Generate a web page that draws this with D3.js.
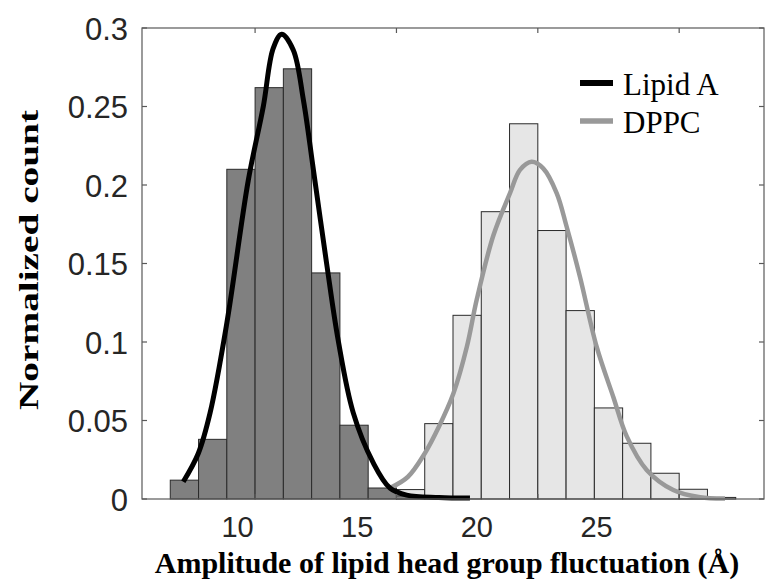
<!DOCTYPE html>
<html><head><meta charset="utf-8">
<script src="https://cdn.jsdelivr.net/npm/d3@7"></script>
<style>body{margin:0;background:#fff}</style>
</head><body><svg id="c" width="765" height="583"></svg>
<script>
// ---- data ----
const xDomain = [6, 28];
const yDomain = [0, 0.3];
const xTicks = [10, 15, 20, 25];
const yTicks = [0, 0.05, 0.1, 0.15, 0.2, 0.25, 0.3];
const yTickLabels = ["0", "0.05", "0.1", "0.15", "0.2", "0.25", "0.3"];
const binWidth = 1;
const lipidABinStart = [7, 8, 9, 10, 11, 12, 13, 14, 15, 16];
const lipidACounts   = [0.012, 0.038, 0.210, 0.262, 0.274, 0.144, 0.047, 0.007, 0.002, 0.001];
const dppcBinStart = [15, 16, 17, 18, 19, 20, 21, 22, 23, 24, 25, 26];
const dppcCounts   = [0.006, 0.048, 0.117, 0.183, 0.239, 0.171, 0.120, 0.058, 0.0355, 0.0164, 0.0062, 0.001];
const lipidAFitX = [7.46, 7.99, 8.41, 9.0, 9.76, 10.29, 10.64, 10.94, 11.35, 11.71, 12.06, 12.53, 12.94, 13.47, 14.18, 14.77, 15.36, 16.5, 17.6];
const lipidAFitY = [0.011, 0.029, 0.055, 0.112, 0.203, 0.250, 0.287, 0.296, 0.286, 0.254, 0.21, 0.150, 0.101, 0.055, 0.023, 0.007, 0.0025, 0.001, 0.0006];
const dppcFitX = [14.77, 15.4, 16.0, 16.5, 17.01, 17.49, 17.84, 18.43, 19.02, 19.37, 19.78, 20.19, 20.67, 21.02, 21.49, 22.08, 22.67, 23.15, 23.85, 24.79, 25.74, 26.62];
const dppcFitY = [0.007, 0.014, 0.029, 0.046, 0.067, 0.097, 0.127, 0.168, 0.195, 0.2096, 0.2148, 0.2106, 0.1947, 0.1734, 0.1416, 0.097, 0.065, 0.0397, 0.0185, 0.0057, 0.0011, 0.0003];
const seriesNames = ["Lipid A", "DPPC"];
const xLabel = "Amplitude of lipid head group fluctuation (Å)";
const yLabel = "Normalized count";

// ---- layout ----
const L = 142, R = 764, T = 28, B = 499;
const svg = d3.select("#c");
const x = d3.scaleLinear().domain(xDomain).range([L, R]);
const y = d3.scaleLinear().domain(yDomain).range([B, T]);
// tick labels sit at these positions in the reference
const xLab = d3.scaleLinear().domain([10, 25]).range([237, 596]);

const axisCol = "#595959", textCol = "#262626";

// histograms
function bars(starts, vals, fill) {
  svg.append("g").selectAll("rect").data(starts.map((s, i) => ({s, v: vals[i]})))
    .join("rect")
    .attr("x", d => x(d.s)).attr("width", d => x(d.s + binWidth) - x(d.s))
    .attr("y", d => y(d.v)).attr("height", d => y(0) - y(d.v))
    .attr("fill", fill).attr("stroke", "#2a2a2a").attr("stroke-width", 1);
}
bars(dppcBinStart, dppcCounts, "#e6e6e6");
bars(lipidABinStart, lipidACounts, "#808080");

// fits
const line = d3.line().x(d => x(d[0])).y(d => y(d[1])).curve(d3.curveCatmullRom.alpha(0.5));
svg.append("path").datum(dppcFitX.map((v, i) => [v, dppcFitY[i]]))
  .attr("d", line).attr("fill", "none").attr("stroke", "#999999").attr("stroke-width", 4.5);
svg.append("path").datum(lipidAFitX.map((v, i) => [v, lipidAFitY[i]]))
  .attr("d", line).attr("fill", "none").attr("stroke", "#000").attr("stroke-width", 5);

// box + ticks
const gAx = svg.append("g").attr("stroke", axisCol).attr("stroke-width", 1.2).attr("fill", "none");
gAx.append("rect").attr("x", L).attr("y", T).attr("width", R - L).attr("height", B - T);
xTicks.forEach(t => {
  gAx.append("line").attr("x1", x(t)).attr("x2", x(t)).attr("y1", B).attr("y2", B - 5);
  gAx.append("line").attr("x1", x(t)).attr("x2", x(t)).attr("y1", T).attr("y2", T + 5);
});
yTicks.forEach(t => {
  gAx.append("line").attr("x1", L).attr("x2", L + 5).attr("y1", y(t)).attr("y2", y(t));
  gAx.append("line").attr("x1", R).attr("x2", R - 5).attr("y1", y(t)).attr("y2", y(t));
});

// x tick labels
const xa = svg.append("g").attr("transform", `translate(0,${B})`)
  .call(d3.axisBottom(xLab).tickValues(xTicks).tickSize(0).tickFormat(d3.format("d")));
xa.select(".domain").remove();
xa.selectAll("text").attr("y", 38).attr("dy", 0)
  .style("font-family", "'Liberation Sans', Arial, sans-serif").style("font-size", "29px").attr("fill", textCol);

// y tick labels
const ya = svg.append("g").attr("transform", `translate(${L},0)`)
  .call(d3.axisLeft(y).tickValues(yTicks).tickSize(0).tickPadding(14)
    .tickFormat((d, i) => yTickLabels[i]));
ya.select(".domain").remove();
ya.selectAll("text").attr("dy", "0.36em")
  .style("font-family", "'Liberation Sans', Arial, sans-serif").style("font-size", "31px").attr("fill", textCol);

// axis titles
svg.append("text").attr("x", 447).attr("y", 573).attr("text-anchor", "middle")
  .style("font-family", "'Liberation Serif', 'Times New Roman', serif").style("font-weight", "bold")
  .style("font-size", "30px").attr("fill", "#000").text(xLabel);
svg.append("text").attr("transform", "translate(38,260) rotate(-90)").attr("text-anchor", "middle")
  .style("font-family", "'Liberation Serif', 'Times New Roman', serif").style("font-weight", "bold")
  .style("font-size", "28px").attr("fill", "#000")
  .attr("textLength", 300).attr("lengthAdjust", "spacingAndGlyphs").text(yLabel);

// legend
const legCols = ["#000", "#999999"], legW = [5, 4.5], legY = [83, 121];
seriesNames.forEach((n, i) => {
  svg.append("line").attr("x1", 580).attr("x2", 613).attr("y1", legY[i]).attr("y2", legY[i])
    .attr("stroke", legCols[i]).attr("stroke-width", legW[i] + 1);
  svg.append("text").attr("x", 623).attr("y", legY[i] + 12)
    .style("font-family", "'Liberation Serif', 'Times New Roman', serif").style("font-size", "31px")
    .attr("fill", "#000").text(n);
});
</script></body></html>
